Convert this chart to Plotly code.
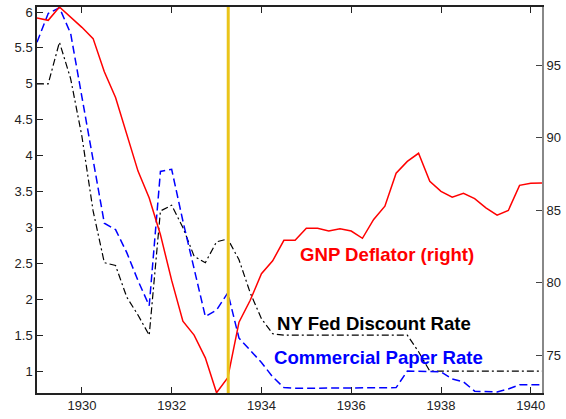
import plotly.graph_objects as go

# Quarterly dates 1929.00 .. 1940.25
quarters = [1929 + 0.25 * k for k in range(46)]

gnp_deflator = [98.24, 98.08, 99.0, 98.3, 97.6, 96.82, 94.54, 92.76, 90.29, 87.69,
                85.84, 83.31, 80.16, 77.35, 76.39, 74.82, 72.42, 73.45, 77.28, 78.79,
                80.62, 81.51, 82.92, 82.92, 83.75, 83.75, 83.56, 83.72, 83.56, 83.06,
                84.36, 85.27, 87.55, 88.36, 88.92, 86.99, 86.30, 85.89, 86.16, 85.80,
                85.16, 84.66, 84.98, 86.71, 86.85, 86.87]

ny_fed_discount = [5.0, 5.0, 5.58, 5.07, 4.27, 3.23, 2.51, 2.47, 2.03, 1.78,
                   1.5, 3.23, 3.31, 3.0, 2.6, 2.51, 2.80, 2.84, 2.55, 2.09,
                   1.73, 1.52, 1.5, 1.5, 1.5, 1.5, 1.5, 1.5, 1.5, 1.5,
                   1.5, 1.5, 1.5, 1.5, 1.27, 1.0, 1.0, 1.0, 1.0, 1.0,
                   1.0, 1.0, 1.0, 1.0, 1.0, 1.0]

commercial_paper = [5.58, 5.98, 6.06, 5.70, 4.82, 3.95, 3.06, 2.97, 2.65, 2.26,
                    1.91, 3.78, 3.81, 3.09, 2.42, 1.76, 1.85, 2.09, 1.46, 1.29,
                    1.12, 0.92, 0.77, 0.76, 0.76, 0.76, 0.76, 0.76, 0.76, 0.76,
                    0.76, 0.76, 0.77, 1.0, 1.0, 1.0, 0.99, 0.89, 0.85, 0.72,
                    0.71, 0.71, 0.75, 0.81, 0.81, 0.81]

marker_year = 1933.26

x_ticks = [1930, 1932, 1934, 1936, 1938, 1940]
left_ticks = [1, 1.5, 2, 2.5, 3, 3.5, 4, 4.5, 5, 5.5, 6]
right_ticks = [75, 80, 85, 90, 95]

labels = [
    ("GNP Deflator (right)", "#FF0000", 1934.82, 2.63),
    ("NY Fed Discount Rate", "#000000", 1934.31, 1.66),
    ("Commercial Paper Rate", "#0000FF", 1934.23, 1.19),
]

FONT = "Liberation Sans, Arial, Helvetica, sans-serif"

fig = go.Figure()
fig.add_trace(go.Scatter(x=quarters, y=ny_fed_discount, mode="lines",
                         line=dict(color="#000000", width=1.2, dash="7px,3px,2px,3px"),
                         yaxis="y", showlegend=False))
fig.add_trace(go.Scatter(x=quarters, y=commercial_paper, mode="lines",
                         line=dict(color="#0000FF", width=1.5, dash="8px,4px"),
                         yaxis="y", showlegend=False))
fig.add_trace(go.Scatter(x=quarters, y=gnp_deflator, mode="lines",
                         line=dict(color="#FF0000", width=1.5),
                         yaxis="y2", showlegend=False))

fig.add_shape(type="line", xref="x", yref="paper", x0=marker_year, x1=marker_year,
              y0=0, y1=1, line=dict(color="#EAC41A", width=3), layer="above")

for text, color, x, y in labels:
    fig.add_annotation(text="<b>%s</b>" % text, x=x, y=y, xref="x", yref="y",
                       xanchor="left", yanchor="middle", showarrow=False,
                       font=dict(family=FONT, size=18.6, color=color))

fig.update_layout(
    width=566, height=419,
    margin=dict(l=37, r=21, t=5, b=26),
    paper_bgcolor="white", plot_bgcolor="white",
    font=dict(family=FONT, size=13, color="#222222"),
    xaxis=dict(range=[1929, 1940.25], tickvals=x_ticks, ticktext=[str(t) for t in x_ticks],
               showgrid=False, zeroline=False, showline=True, linecolor="#222222",
               linewidth=1.5, mirror="ticks", ticks="inside", ticklen=6,
               tickcolor="#222222"),
    yaxis=dict(range=[0.695, 6.07], tickvals=left_ticks,
               ticktext=["1", "1.5", "2", "2.5", "3", "3.5", "4", "4.5", "5", "5.5", "6"],
               showgrid=False, zeroline=False, showline=True, linecolor="#222222",
               linewidth=1.5, ticks="inside", ticklen=6, tickcolor="#222222"),
    yaxis2=dict(range=[72.4, 99.0], tickvals=right_ticks, overlaying="y", side="right",
                showgrid=False, zeroline=False, showline=True, linecolor="#888888",
                linewidth=2, ticks="inside", ticklen=6, tickcolor="#444444"),
)

fig.write_html("out.html", config={"displayModeBar": False},
               post_script="document.body.style.margin='0px';document.body.style.padding='0px';")
